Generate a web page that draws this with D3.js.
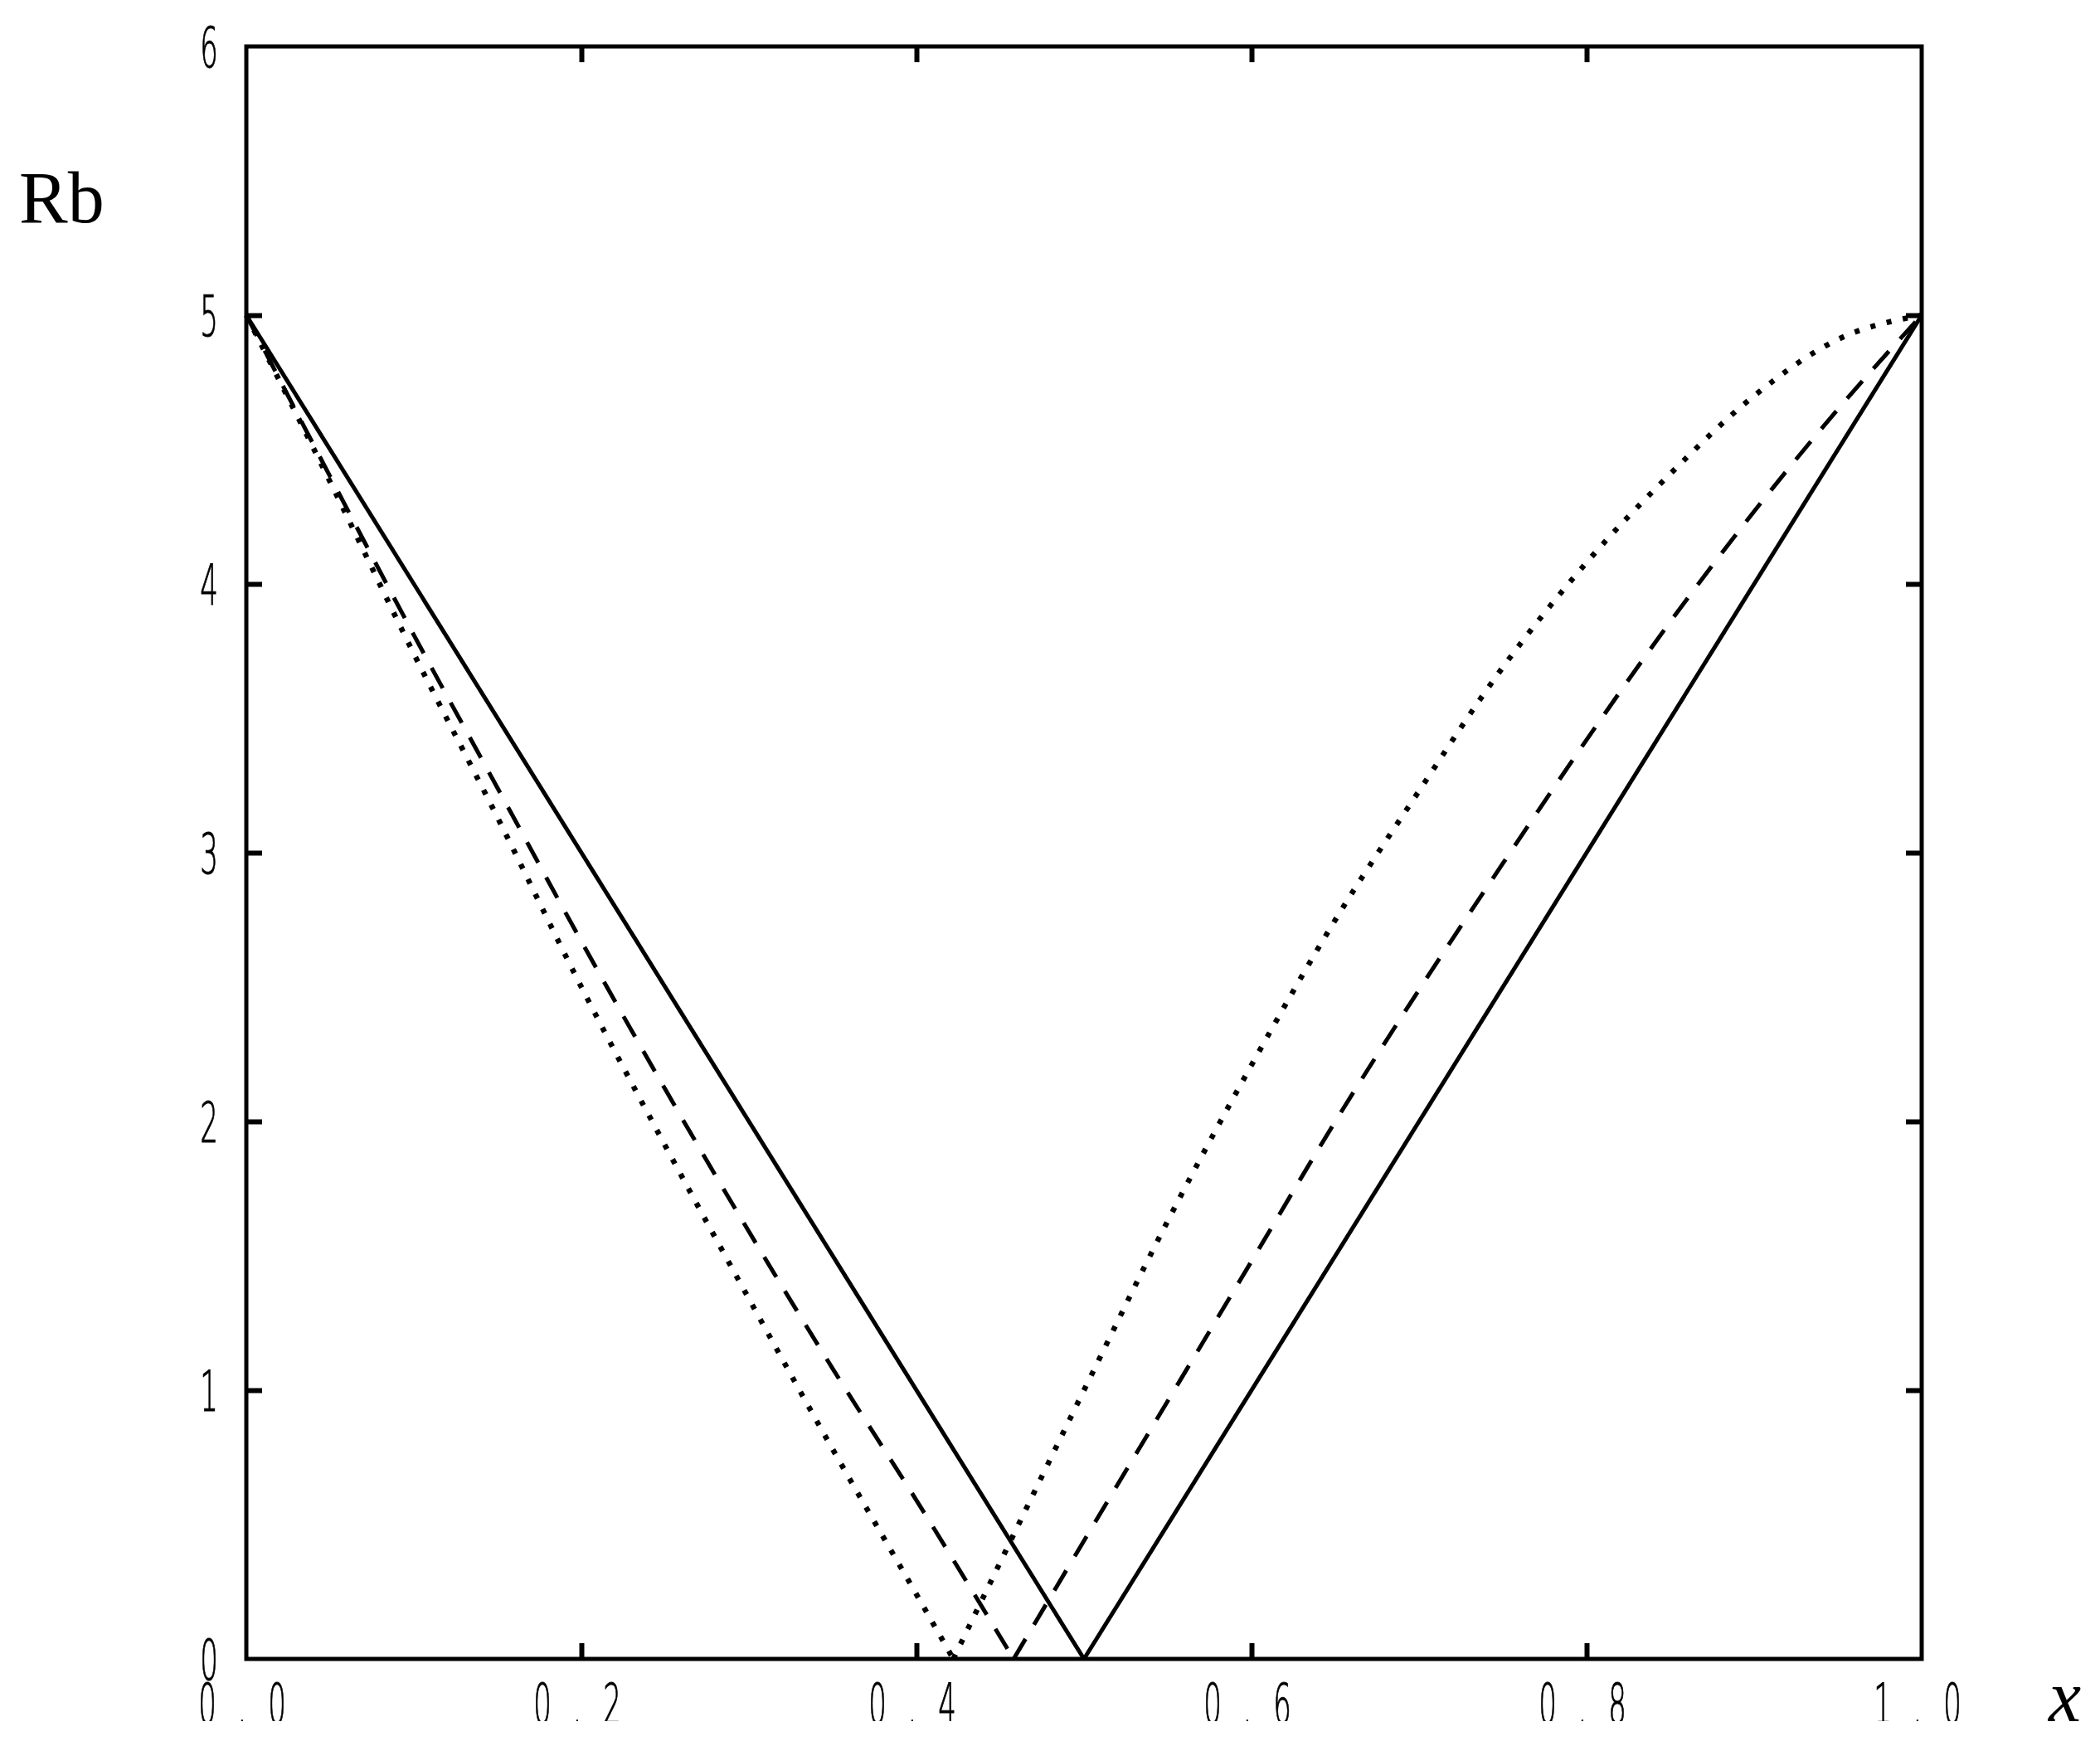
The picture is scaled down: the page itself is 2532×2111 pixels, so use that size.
<!DOCTYPE html>
<html>
<head>
<meta charset="utf-8">
<script src="https://cdn.jsdelivr.net/npm/d3@7"></script>
<style>
  body { margin: 0; background: #fff; }
  .tick-label { font-family: "DejaVu Sans", sans-serif; font-weight: 200; font-size: 68px; fill: #000; stroke: #000; stroke-width: 1; }
  .axis-title { font-family: "Liberation Serif", "Times New Roman", serif; font-size: 88px; fill: #000; }
</style>
</head>
<body>
<div class="chart"></div>
<script>
//Rb against x, three curves (solid, dashed, dotted)
var svgWidth = 2532;
var svgHeight = 2111;

var margin = { top: 56, right: 215, bottom: 111, left: 297 };

var width = svgWidth - margin.left - margin.right;
var height = svgHeight - margin.top - margin.bottom;

//tick values
var xTicks = [0, 0.2, 0.4, 0.6, 0.8, 1.0];
var yTicks = [0, 1, 2, 3, 4, 5, 6];

//solid curve, two straight branches
var solidLeftX = [0, 0.5];
var solidLeftY = [5, 0];
var solidRightX = [0.5, 1];
var solidRightY = [0, 5];

//dashed curve
var dashedLeftX = [0, 0.05, 0.1, 0.15, 0.2, 0.25, 0.3, 0.35, 0.4, 0.458];
var dashedLeftY = [5, 4.40, 3.81, 3.24, 2.67, 2.12, 1.59, 1.08, 0.59, 0];
var dashedRightX = [0.458, 0.5, 0.55, 0.6, 0.65, 0.7, 0.75, 0.8, 0.85, 0.9, 0.95, 1];
var dashedRightY = [0, 0.44, 0.96, 1.48, 2.0, 2.49, 2.96, 3.42, 3.86, 4.27, 4.65, 5];

//dotted curve
var dottedLeftX = [0, 0.05, 0.1, 0.15, 0.2, 0.25, 0.3, 0.35, 0.4, 0.422];
var dottedLeftY = [5, 4.38, 3.74, 3.13, 2.50, 1.91, 1.34, 0.78, 0.24, 0];
var dottedRightX = [0.422, 0.45, 0.5, 0.55, 0.6, 0.65, 0.7, 0.75, 0.8, 0.85, 0.9, 0.95, 1];
var dottedRightY = [0, 0.36, 1.0, 1.63, 2.21, 2.75, 3.23, 3.69, 4.08, 4.41, 4.70, 4.91, 5];

var svg = d3
  .select(".chart")
  .append("svg")
  .attr("width", svgWidth)
  .attr("height", svgHeight);

//labels under the x axis are cut off at the bottom in the original
svg.append("defs")
  .append("clipPath")
  .attr("id", "label-clip")
  .append("rect")
  .attr("x", 0)
  .attr("y", 0)
  .attr("width", svgWidth)
  .attr("height", 2075);

var chart = svg.append("g")
  .attr("transform", "translate(" + margin.left + "," + margin.top + ")");

var xLinearScale = d3.scaleLinear().domain([0, 1]).range([0, width]);
var yLinearScale = d3.scaleLinear().domain([0, 6]).range([height, 0]);

//inward ticks on all four sides, labels drawn by hand below
function styleAxis(g) {
  g.select(".domain").remove();
  g.selectAll(".tick line").attr("stroke", "#000").attr("stroke-width", 6);
  g.selectAll(".tick text").remove();
}

var innerTicksX = xTicks.filter(function(d) { return d > 0 && d < 1; });
var innerTicksY = yTicks.filter(function(d) { return d > 0 && d < 6; });

chart.append("g")
  .attr("transform", "translate(0," + height + ")")
  .call(d3.axisBottom(xLinearScale).tickValues(innerTicksX).tickSizeInner(-19).tickSizeOuter(0))
  .call(styleAxis);

chart.append("g")
  .call(d3.axisTop(xLinearScale).tickValues(innerTicksX).tickSizeInner(-19).tickSizeOuter(0))
  .call(styleAxis);

chart.append("g")
  .call(d3.axisLeft(yLinearScale).tickValues(innerTicksY).tickSizeInner(-19).tickSizeOuter(0))
  .call(styleAxis);

chart.append("g")
  .attr("transform", "translate(" + width + ",0)")
  .call(d3.axisRight(yLinearScale).tickValues(innerTicksY).tickSizeInner(-19).tickSizeOuter(0))
  .call(styleAxis);

//frame
chart.append("rect")
  .attr("x", 0)
  .attr("y", 0)
  .attr("width", width)
  .attr("height", height)
  .attr("fill", "none")
  .attr("stroke", "#000")
  .attr("stroke-width", 5);

//curves, each branch drawn on its own so the cusp at the minimum stays sharp
function zipXY(xs, ys) {
  return xs.map(function(d, i) { return [d, ys[i]]; });
}

var line = d3.line()
  .x(function(d) { return xLinearScale(d[0]); })
  .y(function(d) { return yLinearScale(d[1]); })
  .curve(d3.curveMonotoneX);

var series = [
  { data: zipXY(solidLeftX, solidLeftY), dash: null },
  { data: zipXY(solidRightX, solidRightY), dash: null },
  { data: zipXY(dashedLeftX, dashedLeftY), dash: "28,20" },
  { data: zipXY(dashedRightX, dashedRightY), dash: "28,20" },
  { data: zipXY(dottedLeftX, dottedLeftY), dash: "6,14" },
  { data: zipXY(dottedRightX, dottedRightY), dash: "6,14" }
];

chart.selectAll(".curve")
  .data(series)
  .enter()
  .append("path")
  .attr("class", "curve")
  .attr("d", function(d) { return line(d.data); })
  .attr("fill", "none")
  .attr("stroke", "#000")
  .attr("stroke-width", function(d) { return d.dash === "6,14" ? 6.5 : 5; })
  .attr("stroke-dasharray", function(d) { return d.dash; });

//narrow, thin tick labels; every character placed on its own
function drawLabel(parent, str, cx, baseline, step) {
  var chars = str.split("");
  var offset = (chars.length - 1) / 2;
  chars.forEach(function(c, i) {
    parent.append("text")
      .attr("class", "tick-label")
      .attr("text-anchor", "middle")
      .attr("font-weight", c === "." ? "bold" : null)
      .attr("transform", "translate(" + (cx + (i - offset) * step) + "," + baseline + ") scale(0.5,1)")
      .text(c);
  });
}

var yLabels = svg.append("g");
yTicks.forEach(function(d) {
  drawLabel(yLabels, String(d), 252, margin.top + yLinearScale(d) + 25, 0);
});

var xLabels = svg.append("g").attr("clip-path", "url(#label-clip)");
xTicks.forEach(function(d) {
  drawLabel(xLabels, d.toFixed(1), margin.left + xLinearScale(d) - 5, 2078, 42);
});

//axis titles
svg.append("text")
  .attr("class", "axis-title")
  .attr("x", 23)
  .attr("y", 268)
  .text("Rb");

svg.append("text")
  .attr("class", "axis-title")
  .attr("font-style", "italic")
  .attr("x", 2470)
  .attr("y", 2075)
  .text("x");
</script>
</body>
</html>
